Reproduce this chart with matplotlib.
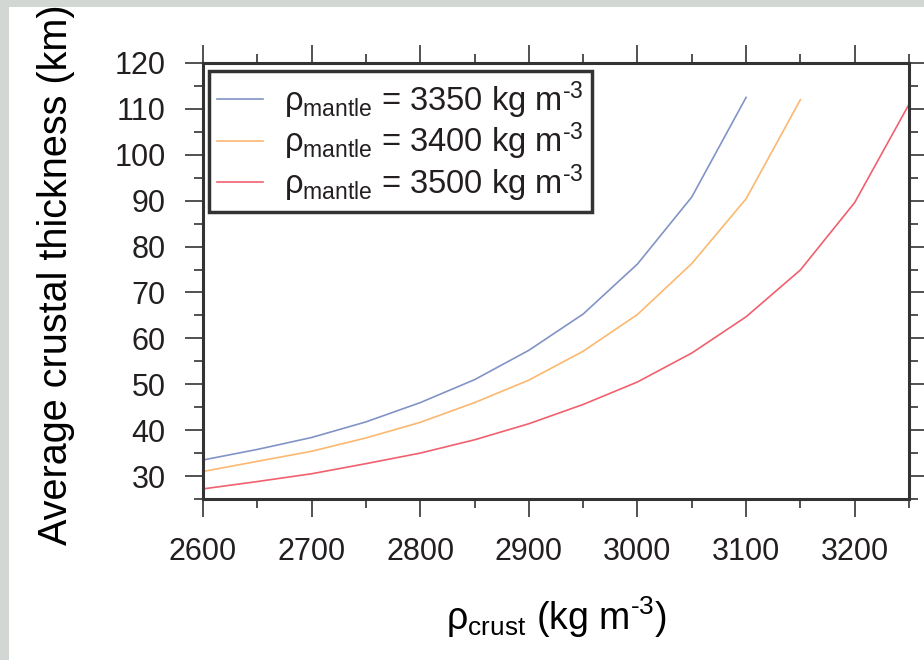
import matplotlib
matplotlib.use('Agg')
import matplotlib.pyplot as plt
from matplotlib.patches import Rectangle
from matplotlib.ticker import MultipleLocator

rho_crust = [2600, 2650, 2700, 2750, 2800, 2850, 2900, 2950, 3000, 3050, 3100, 3150, 3200, 3250]
thick_3350 = [33.5, 35.8, 38.4, 41.8, 46.0, 51.0, 57.4, 65.3, 76.2, 90.8, 112.5]
thick_3400 = [31.0, 33.2, 35.4, 38.3, 41.7, 46.0, 50.9, 57.2, 65.2, 76.3, 90.4, 112.0]
thick_3500 = [27.2, 28.8, 30.5, 32.7, 35.0, 37.9, 41.4, 45.6, 50.5, 56.8, 64.7, 74.9, 89.6, 111.0]
labels = ['3350', '3400', '3500']
colors = ['#8294c6', '#fbb870', '#f1606f']

ink = '#231f20'
plt.rcParams['font.family'] = ['Liberation Sans', 'DejaVu Sans']
plt.rcParams['mathtext.fontset'] = 'custom'
plt.rcParams['mathtext.rm'] = 'Liberation Sans'
plt.rcParams['mathtext.it'] = 'Liberation Sans:italic'
plt.rcParams['mathtext.bf'] = 'Liberation Sans:bold'
plt.rcParams['text.color'] = ink

fig = plt.figure(figsize=(9.24, 6.60), dpi=100, facecolor='#d3d7d3')
# white page area behind the plot
fig.add_artist(Rectangle((9/924, 0), 1, 1 - 7/660, transform=fig.transFigure,
                         facecolor='white', edgecolor='none', zorder=-10))
ax = fig.add_axes([203/924, 1 - 499/660, 706/924, 436/660])

series = [thick_3350, thick_3400, thick_3500]
for y, lab, c in zip(series, labels, colors):
    ax.plot(rho_crust[:len(y)], y, color=c, lw=1.2,
            label=r'$\mathrm{\rho_{mantle}}$ = ' + lab + r' kg m$^{\text{-3}}$')

ax.set_xlim(2600, 3250)
ax.set_ylim(25, 120)
ax.xaxis.set_major_locator(MultipleLocator(100))
ax.xaxis.set_minor_locator(MultipleLocator(50))
ax.yaxis.set_major_locator(MultipleLocator(10))
ax.yaxis.set_minor_locator(MultipleLocator(5))
ax.set_yticks(range(30, 121, 10))
ax.tick_params(which='both', direction='out', top=True, right=True, color='#333333',
               width=1.2, labelcolor=ink)
ax.tick_params(which='major', length=13, labelsize=22, pad=14)
ax.tick_params(which='minor', length=6.5)
for s in ax.spines.values():
    s.set_linewidth(2.2)
    s.set_color('#333333')

ax.set_ylabel('Average crustal thickness (km)', fontsize=28.5)
ax.yaxis.set_label_coords(-0.181, 0.515)
ax.set_xlabel(r'$\mathrm{\rho_{crust}}$ (kg m$^{\text{-3}}$)', fontsize=27, labelpad=20)

leg = ax.legend(loc='upper left', bbox_to_anchor=(0.0085, 0.982), borderaxespad=0,
                fontsize=23.5, handlelength=1.4, handletextpad=0.65, labelspacing=0.0,
                borderpad=0.25, fancybox=False, framealpha=1)
leg.get_frame().set_edgecolor('#333333')
leg.get_frame().set_linewidth(2.5)

fig.savefig('out.png', dpi=100, facecolor=fig.get_facecolor())
